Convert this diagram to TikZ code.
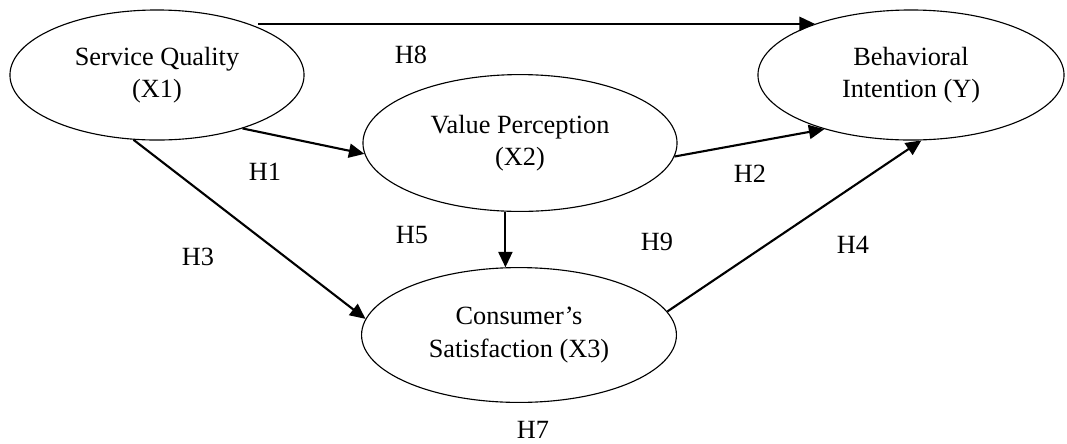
\documentclass[tikz,border=0pt]{standalone}
\usepackage{fontspec}
\setmainfont{Liberation Serif}
\usepackage{tikz}
\usetikzlibrary{shapes.geometric,arrows.meta}

\tikzset{
	construct/.style = {ellipse, draw, line width=0.8pt, inner sep=0pt, align=center,
		font=\fontsize{18.7}{23}\selectfont},
	path arrow/.style = {-{Triangle[length=11pt, width=10pt]}, line width=1.5pt},
	hyp/.style = {font=\fontsize{18.7}{23}\selectfont, inner sep=0pt}
}

\begin{document}
\begin{tikzpicture}[x=0.025cm, y=-0.025cm]
		\useasboundingbox (0, 0) rectangle (1067, 443);
		% constructs
		\node[construct, minimum width=7.35cm, minimum height=3.25cm] (quality) at (157, 75) {Service Quality\\(X1)};
		\node[construct, minimum width=7.85cm, minimum height=3.42cm] (value) at (520, 143) {Value Perception\\(X2)};
		\node[construct, minimum width=7.65cm, minimum height=3.25cm] (intention) at (911, 75) {Behavioral\\Intention (Y)};
		\node[construct, minimum width=7.87cm, minimum height=3.37cm] (satisfaction) at (519, 335) {Consumer’s\\Satisfaction (X3)};
		% paths
		\draw[path arrow, shorten <=0.22cm] (quality.29) -- (intention.152 |- quality.29);
		\draw[path arrow] (quality.-32) -- (value.184);
		\draw[path arrow] (value.-5) -- (intention.212);
		\draw[path arrow] (quality.-110) -- (satisfaction.174);
		\draw[path arrow] (satisfaction.9) -- (intention.-81);
		\draw[path arrow] (value.-102) -- (value.-102 |- satisfaction.102);
		% hypotheses
		\node[hyp] (h8) at (411, 55) {H8};
		\node[hyp] (h1) at (265, 172) {H1};
		\node[hyp] (h2) at (750, 174) {H2};
		\node[hyp] (h5) at (412, 235) {H5};
		\node[hyp] (h9) at (657, 242) {H9};
		\node[hyp] (h3) at (198, 257) {H3};
		\node[hyp] (h4) at (853, 245) {H4};
		\node[hyp] (h7) at (533, 430) {H7};
	\end{tikzpicture}
\end{document}
